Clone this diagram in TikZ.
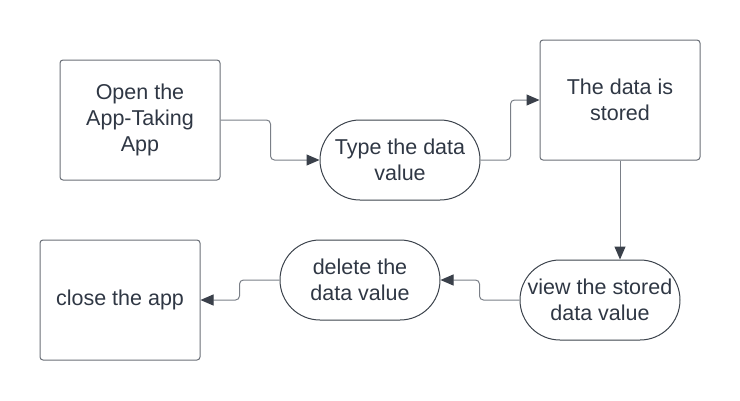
\documentclass[tikz,border=0pt]{standalone}
\usepackage{fontspec}
\setmainfont{Liberation Sans}
\usetikzlibrary{arrows.meta}
\definecolor{boxline}{HTML}{6A6F77}
\definecolor{pillline}{HTML}{3C434C}
\definecolor{linkline}{HTML}{7A7F87}
\definecolor{tipdark}{HTML}{3A404A}
\definecolor{txt}{HTML}{2F3744}
\begin{document}
\begin{tikzpicture}[x=1pt, y=-1pt,
    box/.style={draw=boxline, line width=1pt, rounded corners=3pt, minimum width=160pt,
      minimum height=120pt, inner sep=0pt, align=center, text=txt,
      font=\fontsize{21.5}{26}\selectfont},
    pill/.style={box, draw=pillline, rounded corners=40pt, minimum height=80pt},
    link/.style={draw=linkline, line width=1pt, rounded corners=4pt,
      -{Triangle[length=13pt,width=11pt,color=tipdark]}}]
	\useasboundingbox (0,0) rectangle (740,400);
	% top row
	\node[box] (open) at (140,120) {Open the\\App-Taking\\App};
	\node[pill] (type) at (400,160) {Type the data\\value};
	\node[box] (stored) at (620,100) {The data is\\stored};
	% bottom row
	\node[pill] (view) at (600,300) {view the stored\\data value};
	\node[pill] (delete) at (360,280) {delete the\\data value};
	\node[box] (close) at (120,300) {close the app};
	% connectors
	\draw[link] (open.east) -- ++(50,0) |- (type.west);
	\draw[link] (type.east) -- ++(30,0) |- (stored.west);
	\draw[link] (stored.south) -- (stored.south |- view.north);
	\draw[link] (view.west) -- ++(-40,0) |- (delete.east);
	\draw[link] (delete.west) -- ++(-40,0) |- (close.east);
\end{tikzpicture}
\end{document}
